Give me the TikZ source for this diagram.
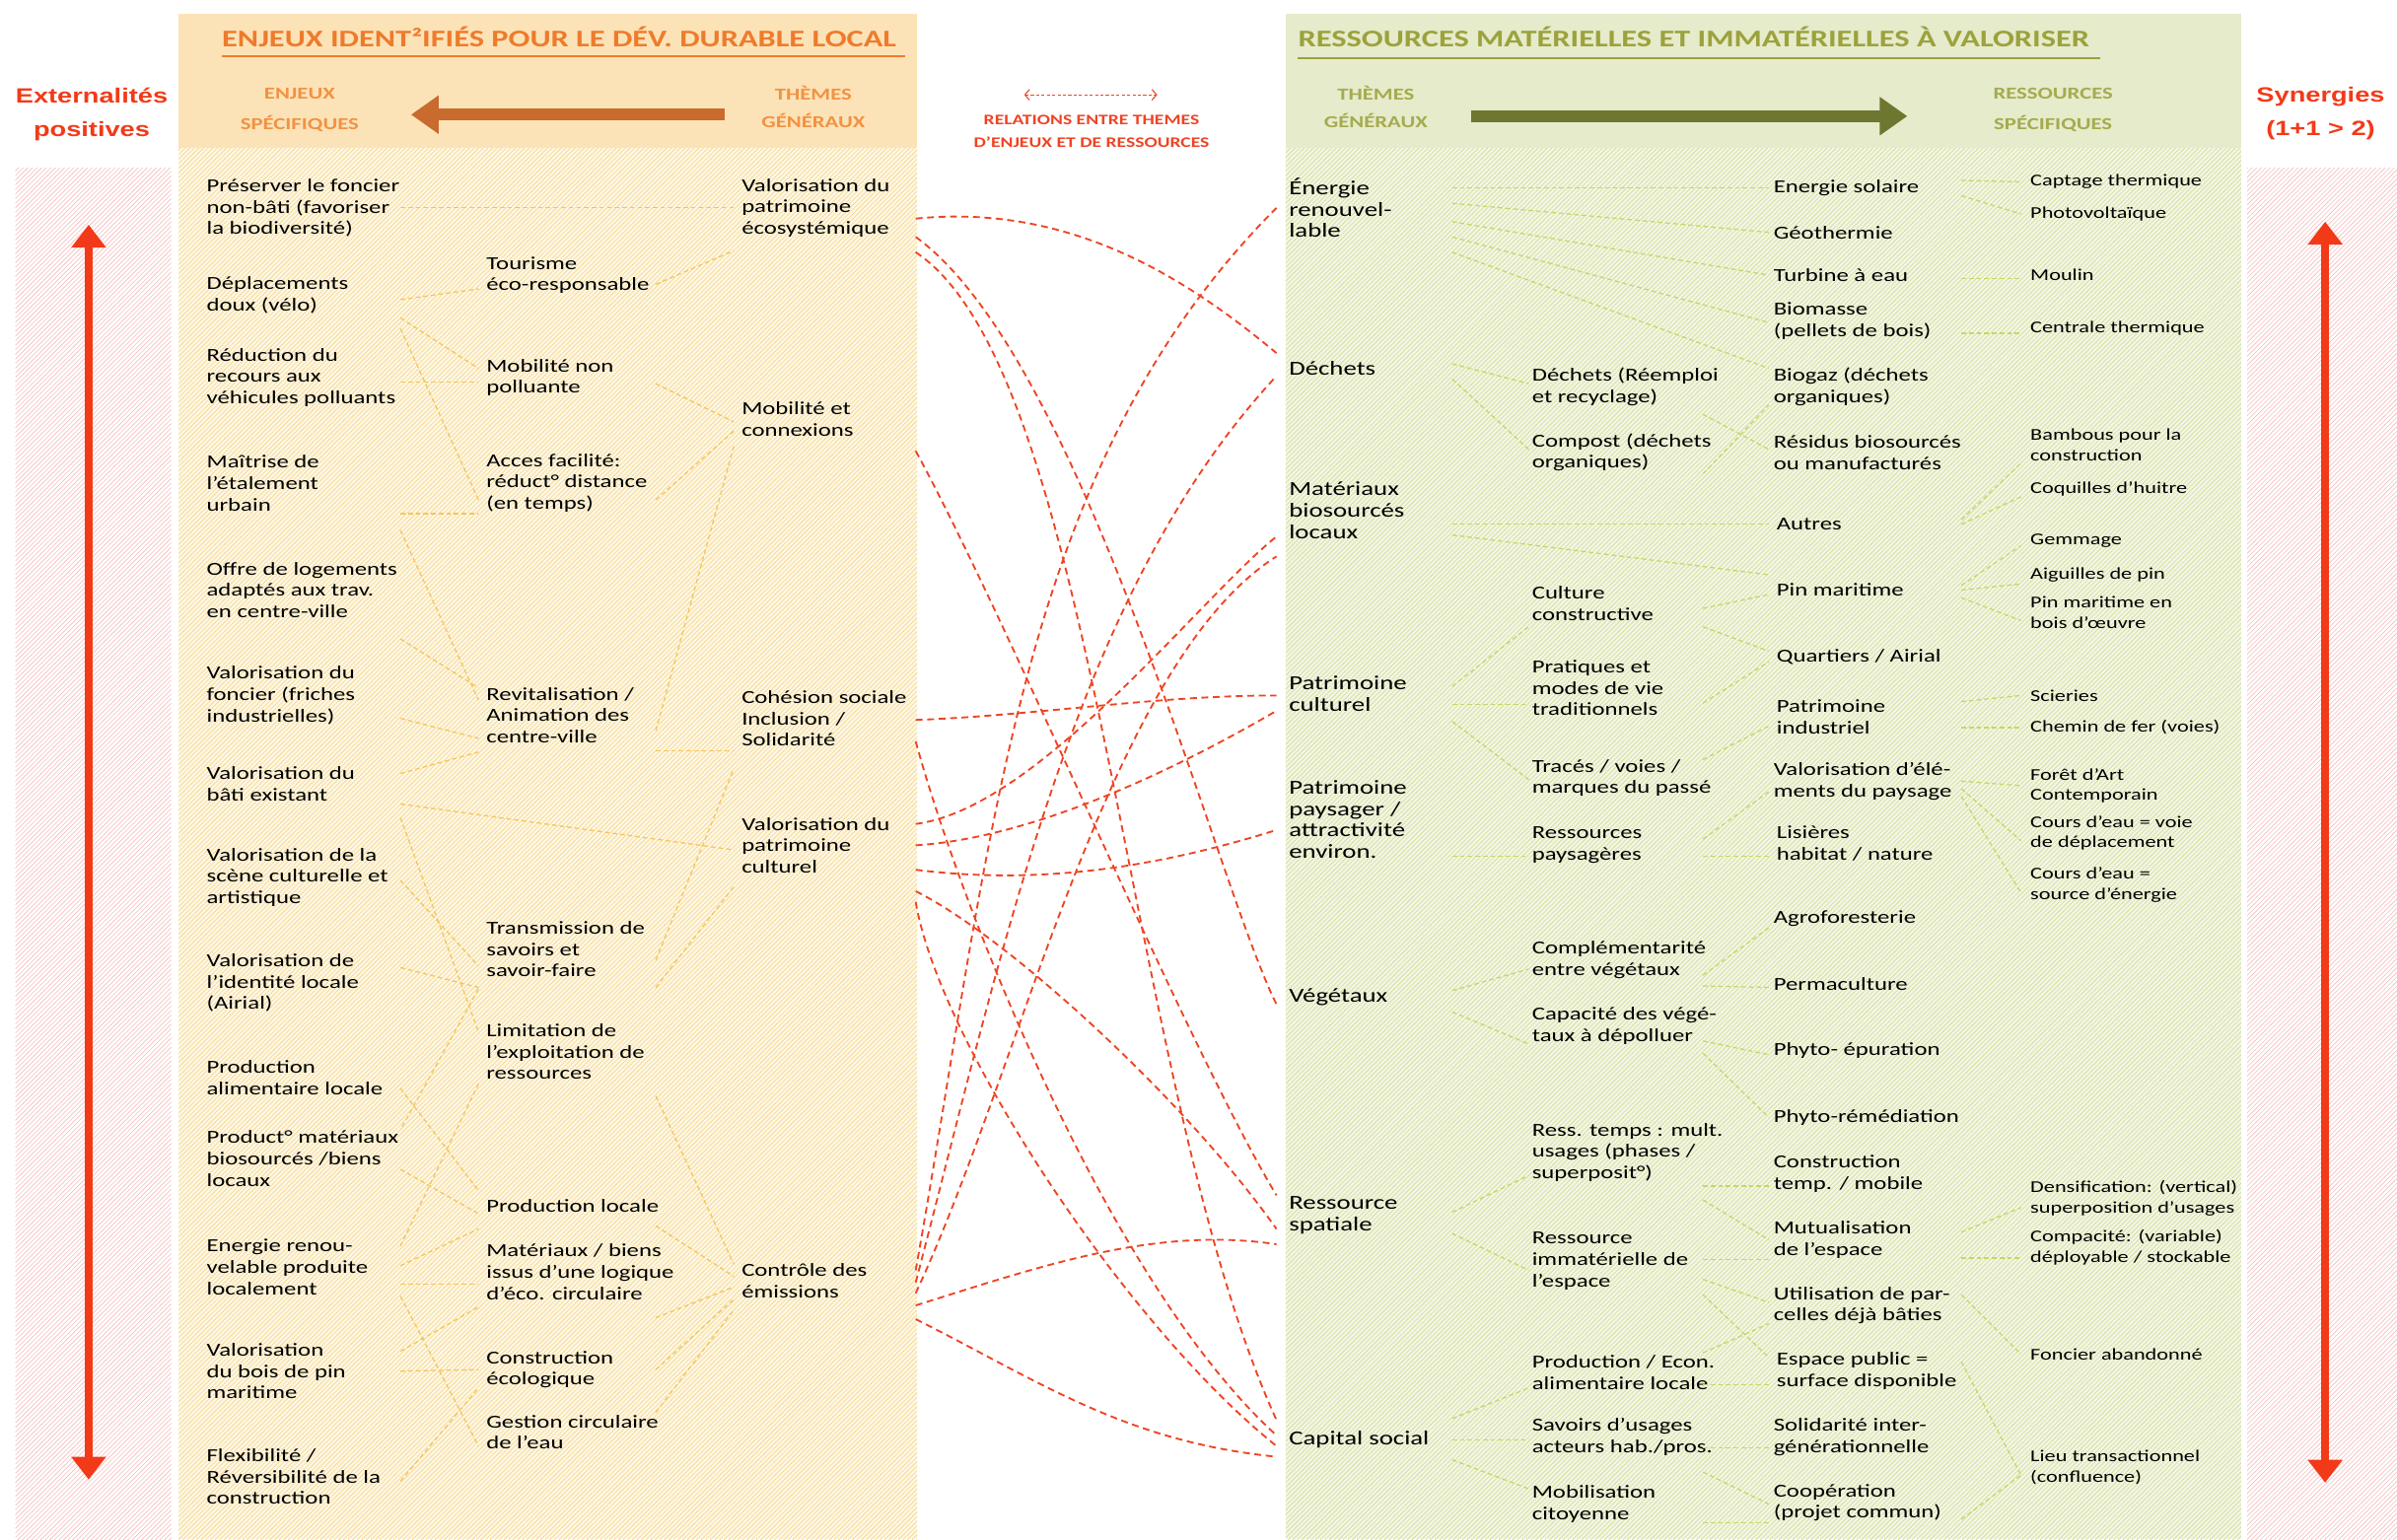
\documentclass[tikz,border=0pt]{standalone}
\usepackage{fontspec}
\setmainfont{Carlito}[FakeStretch=1.33]
\newfontfamily\extfont{Liberation Sans}[FakeStretch=1.3]
\usetikzlibrary{arrows.meta,patterns,calc}

\definecolor{enteteL}{HTML}{FCE3B7}
\definecolor{fondL}{HTML}{FEF7E4}
\definecolor{rayL}{HTML}{F3D690}
\definecolor{enteteR}{HTML}{E6EBCB}
\definecolor{fondR}{HTML}{F3F6E3}
\definecolor{rayR}{HTML}{CFDC9C}
\definecolor{rayRose}{HTML}{F4BDBD}
\definecolor{orangeT}{HTML}{EE7B2C}
\definecolor{orangeS}{HTML}{F29244}
\definecolor{orangeF}{HTML}{C96A2F}
\definecolor{oliveT}{HTML}{9CA23C}
\definecolor{oliveS}{HTML}{A5AB4E}
\definecolor{oliveF}{HTML}{6E7630}
\definecolor{rouge}{HTML}{F23A18}
\definecolor{rougeL}{HTML}{EE4424}
\definecolor{jauneL}{HTML}{F4C658}
\definecolor{vertL}{HTML}{C6D765}

\tikzset{
  enjeu/.style={anchor=west, align=left, inner sep=0pt, font=\fontsize{12}{14}\selectfont},
  theme/.style={enjeu, font=\fontsize{13}{14}\selectfont},
  detail/.style={enjeu, font=\fontsize{10.8}{13.5}\selectfont},
  soustitre/.style={align=center, inner sep=0pt, font=\fontsize{11}{20}\selectfont\bfseries},
  lienE/.style={draw=jauneL, dash pattern=on 3pt off 2pt, line width=0.8pt},
  lienR/.style={draw=vertL, dash pattern=on 3pt off 2pt, line width=0.8pt},
  relation/.style={draw=rougeL, dash pattern=on 4.5pt off 3pt, line width=1.2pt},
  flecheext/.style={draw=rouge, line width=5pt, {Triangle[length=15pt,width=22pt]}-{Triangle[length=15pt,width=22pt]}},
}

\begin{document}
\begin{tikzpicture}[x=1pt, y=-1pt]
  \useasboundingbox (0,0) rectangle (1568,1007);

  % fonds
  \fill[enteteL] (117,9) rectangle (600,97);
  \fill[fondL] (117,97) rectangle (600,1007);
  \fill[pattern=north east lines, pattern color=rayL] (117,97) rectangle (600,1007);
  \fill[enteteR] (841,9) rectangle (1466,97);
  \fill[fondR] (841,97) rectangle (1466,1007);
  \fill[pattern=north east lines, pattern color=rayR] (841,97) rectangle (1466,1007);
  \fill[pattern=north east lines, pattern color=rayRose] (10,110) rectangle (112,1007);
  \fill[pattern=north east lines, pattern color=rayRose] (1470,110) rectangle (1568,1007);

  % externalites / synergies
  \node[text=rouge, align=center, inner sep=0pt, font=\extfont\bfseries\fontsize{13.5}{22}\selectfont] (ext) at (60,75) {Externalités\\positives};
  \node[text=rouge, align=center, inner sep=0pt, font=\extfont\bfseries\fontsize{13.5}{22}\selectfont] (syn) at (1518,74) {Synergies\\(1+1 > 2)};
  \draw[flecheext] (58,147) -- (58,968);
  \draw[flecheext] (1521,145) -- (1521,970);

  % en-tetes
  \node[anchor=west, inner sep=0pt, text=orangeT, font=\fontsize{15.7}{16}\selectfont\bfseries] (titreL) at (145,24) {ENJEUX IDENT²IFIÉS POUR LE DÉV. DURABLE LOCAL};
  \draw[orangeT, line width=1.3pt] (145,37) -- (592,37);
  \node[soustitre, text=orangeS] (enjsp) at (196,72) {ENJEUX\\SPÉCIFIQUES};
  \node[soustitre, text=orangeS, font=\fontsize{11}{18}\selectfont\bfseries] (themL) at (532,70) {THÈMES\\GÉNÉRAUX};
  \draw[orangeF, line width=8pt, -{Triangle[length=18pt,width=24pt]}, shorten <=24pt, shorten >=34pt] ([yshift=-5pt]themL.west) -- ([yshift=-5pt]themL.west -| enjsp.east);

  \node[anchor=west, inner sep=0pt, text=oliveT, font=\fontsize{15.7}{16}\selectfont\bfseries] (titreR) at (849,24) {RESSOURCES MATÉRIELLES ET IMMATÉRIELLES À VALORISER};
  \draw[oliveT, line width=1.3pt] (849,38) -- (1374,38);
  \node[soustitre, text=oliveS, font=\fontsize{11}{18}\selectfont\bfseries] (themR) at (900,70) {THÈMES\\GÉNÉRAUX};
  \node[soustitre, text=oliveS] (ressp) at (1343,72) {RESSOURCES\\SPÉCIFIQUES};
  \draw[oliveF, line width=8pt, -{Triangle[length=18pt,width=24pt]}, shorten <=28pt, shorten >=56pt] ([yshift=-6pt]themR.east) -- ([yshift=-6pt]themR.east -| ressp.west);

  % legende des relations
  \node[text=rougeL, align=center, inner sep=0pt, font=\fontsize{9.5}{15}\selectfont\bfseries] (legende) at (714,86) {RELATIONS ENTRE THEMES\\D'ENJEUX ET DE RESSOURCES};
  \draw[rougeL, dash pattern=on 2pt off 1.5pt, line width=0.7pt, {Straight Barb[length=3pt,width=7pt]}-{Straight Barb[length=3pt,width=7pt]}] (670,62) -- (757,62);

  % enjeux specifiques
  \node[enjeu] (pres) at (135,136) {Préserver le foncier\\non-bâti (favoriser\\la biodiversité)};
  \node[enjeu] (depl) at (135,193) {Déplacements\\doux (vélo)};
  \node[enjeu] (reduc) at (135,247) {Réduction du\\recours aux\\véhicules polluants};
  \node[enjeu] (maitr) at (135,316) {Maîtrise de\\l'étalement\\urbain};
  \node[enjeu] (offre) at (135,386) {Offre de logements\\adaptés aux trav.\\en centre-ville};
  \node[enjeu] (fonc) at (135,455) {Valorisation du\\foncier (friches\\industrielles)};
  \node[enjeu] (bati) at (135,513) {Valorisation du\\bâti existant};
  \node[enjeu] (scene) at (135,574) {Valorisation de la\\scène culturelle et\\artistique};
  \node[enjeu] (ident) at (135,643) {Valorisation de\\l'identité locale\\(Airial)};
  \node[enjeu] (palim) at (135,705) {Production\\alimentaire locale};
  \node[enjeu] (pmat) at (135,758) {Product° matériaux\\biosourcés /biens\\locaux};
  \node[enjeu] (enren) at (135,829) {Energie renou-\\velable produite\\localement};
  \node[enjeu] (bois) at (135,897) {Valorisation\\du bois de pin\\maritime};
  \node[enjeu] (flex) at (135,966) {Flexibilité /\\Réversibilité de la\\construction};

  % enjeux intermediaires
  \node[enjeu] (tour) at (318,180) {Tourisme\\éco-responsable};
  \node[enjeu] (mobnp) at (318,247) {Mobilité non\\polluante};
  \node[enjeu] (acces) at (318,316) {Acces facilité:\\réduct° distance\\(en temps)};
  \node[enjeu] (revit) at (318,468) {Revitalisation /\\Animation des\\centre-ville};
  \node[enjeu] (transm) at (318,621) {Transmission de\\savoirs et\\savoir-faire};
  \node[enjeu] (limit) at (318,688) {Limitation de\\l'exploitation de\\ressources};
  \node[enjeu] (prodloc) at (318,789) {Production locale};
  \node[enjeu] (matbiens) at (318,832) {Matériaux / biens\\issus d'une logique\\d'éco. circulaire};
  \node[enjeu] (constr) at (318,896) {Construction\\écologique};
  \node[enjeu] (eau) at (318,937) {Gestion circulaire\\de l'eau};

  % themes generaux (enjeux)
  \node[enjeu] (vpeco) at (485,136) {Valorisation du\\patrimoine\\écosystémique};
  \node[enjeu] (mobco) at (485,274) {Mobilité et\\connexions};
  \node[enjeu] (cohes) at (485,470) {Cohésion sociale\\Inclusion /\\Solidarité};
  \node[enjeu] (vpcult) at (485,553) {Valorisation du\\patrimoine\\culturel};
  \node[enjeu] (contr) at (485,838) {Contrôle des\\émissions};

  % themes generaux (ressources)
  \node[theme] (ener) at (843,136) {Énergie\\renouvel-\\lable};
  \node[theme] (dech) at (843,241) {Déchets};
  \node[theme] (matbio) at (843,334) {Matériaux\\biosourcés\\locaux};
  \node[theme] (patcul) at (843,454) {Patrimoine\\culturel};
  \node[theme] (patpay) at (843,536) {Patrimoine\\paysager /\\attractivité\\environ.};
  \node[theme] (veget) at (843,652) {Végétaux};
  \node[theme] (resspa) at (843,795) {Ressource\\spatiale};
  \node[theme] (capsoc) at (843,942) {Capital social};

  % ressources intermediaires
  \node[enjeu] (dreemp) at (1002,253) {Déchets (Réemploi\\et recyclage)};
  \node[enjeu] (compost) at (1002,296) {Compost (déchets\\organiques)};
  \node[enjeu] (cultcon) at (1002,395) {Culture\\constructive};
  \node[enjeu] (prat) at (1002,450) {Pratiques et\\modes de vie\\traditionnels};
  \node[enjeu] (traces) at (1002,509) {Tracés / voies /\\marques du passé};
  \node[enjeu] (resspay) at (1002,553) {Ressources\\paysagères};
  \node[enjeu] (compl) at (1002,628) {Complémentarité\\entre végétaux};
  \node[enjeu] (capac) at (1002,671) {Capacité des végé-\\taux à dépolluer};
  \node[enjeu] (resstps) at (1002,754) {Ress. temps : mult.\\usages (phases /\\superposit°)};
  \node[enjeu] (ressimm) at (1002,825) {Ressource\\immatérielle de\\l'espace};
  \node[enjeu] (prodecon) at (1002,898) {Production / Econ.\\alimentaire locale};
  \node[enjeu] (savoirs) at (1002,940) {Savoirs d'usages\\acteurs hab./pros.};
  \node[enjeu] (mobcit) at (1002,984) {Mobilisation\\citoyenne};

  % ressources
  \node[enjeu] (esol) at (1160,123) {Energie solaire};
  \node[enjeu] (geoth) at (1160,152) {Géothermie};
  \node[enjeu] (turb) at (1160,180) {Turbine à eau};
  \node[enjeu] (biom) at (1160,210) {Biomasse\\(pellets de bois)};
  \node[enjeu] (biogaz) at (1160,253) {Biogaz (déchets\\organiques)};
  \node[enjeu] (residus) at (1160,296) {Résidus biosourcés\\ou manufacturés};
  \node[enjeu] (autres) at (1162,343) {Autres};
  \node[enjeu] (pinmar) at (1162,386) {Pin maritime};
  \node[enjeu] (quart) at (1162,430) {Quartiers / Airial};
  \node[enjeu] (patind) at (1162,469) {Patrimoine\\industriel};
  \node[enjeu] (valel) at (1160,511) {Valorisation d'élé-\\ments du paysage};
  \node[enjeu] (lisier) at (1162,552) {Lisières\\habitat / nature};
  \node[enjeu] (agro) at (1160,601) {Agroforesterie};
  \node[enjeu] (perma) at (1160,644) {Permaculture};
  \node[enjeu] (phytoep) at (1160,687) {Phyto- épuration};
  \node[enjeu] (phytorem) at (1160,731) {Phyto-rémédiation};
  \node[enjeu] (constmp) at (1160,768) {Construction\\temp. / mobile};
  \node[enjeu] (mutu) at (1160,811) {Mutualisation\\de l'espace};
  \node[enjeu] (utilis) at (1160,854) {Utilisation de par-\\celles déjà bâties};
  \node[enjeu] (esppub) at (1162,897) {Espace public =\\surface disponible};
  \node[enjeu] (solid) at (1160,940) {Solidarité inter-\\générationnelle};
  \node[enjeu] (coop) at (1160,983) {Coopération\\(projet commun)};

  % ressources specifiques
  \node[detail] (captage) at (1328,119) {Captage thermique};
  \node[detail] (photo) at (1328,140) {Photovoltaïque};
  \node[detail] (moulin) at (1328,180) {Moulin};
  \node[detail] (centrale) at (1328,215) {Centrale thermique};
  \node[detail] (bambou) at (1328,291) {Bambous pour la\\construction};
  \node[detail] (coquil) at (1328,320) {Coquilles d'huitre};
  \node[detail] (gemm) at (1328,354) {Gemmage};
  \node[detail] (aiguil) at (1328,376) {Aiguilles de pin};
  \node[detail] (pinbois) at (1328,401) {Pin maritime en\\bois d'œuvre};
  \node[detail] (scier) at (1328,455) {Scieries};
  \node[detail] (chemin) at (1328,476) {Chemin de fer (voies)};
  \node[detail] (foret) at (1328,514) {Forêt d'Art\\Contemporain};
  \node[detail] (coursv) at (1328,545) {Cours d'eau = voie\\de déplacement};
  \node[detail] (courss) at (1328,579) {Cours d'eau =\\source d'énergie};
  \node[detail] (densif) at (1328,784) {Densification: (vertical)\\superposition d'usages};
  \node[detail] (compac) at (1328,816) {Compacité: (variable)\\déployable / stockable};
  \node[detail] (foncab) at (1328,886) {Foncier abandonné};
  \node[detail] (lieutr) at (1328,960) {Lieu transactionnel\\(confluence)};

  % colonnes des liens
  \coordinate (c1) at (262,0);
  \coordinate (c2l) at (313,0);
  \coordinate (c2r) at (429,0);
  \coordinate (c3) at (480,0);
  \coordinate (rl) at (599,0);
  \coordinate (rr) at (835,0);
  \coordinate (c5) at (950,0);
  \coordinate (c6) at (1000,0);
  \coordinate (c7) at (1114,0);
  \coordinate (c8) at (1157,0);
  \coordinate (c9) at (1283,0);
  \coordinate (c10) at (1322,0);

  % liens enjeux
  \draw[lienE] (c1|-pres) -- (c3|-vpeco);
  \draw[lienE] ($(c2r|-tour)+(0,6)$) -- ($(c3|-vpeco)+(0,28)$);
  \draw[lienE] ($(c1|-depl)+(0,3)$) -- ($(c2l|-tour)+(0,9)$);
  \draw[lienE] ($(c1|-depl)+(0,15)$) -- ($(c2l|-mobnp)+(0,-6)$);
  \draw[lienE] ($(c1|-depl)+(0,22)$) -- ($(c2l|-acces)+(0,11)$);
  \draw[lienE] ($(c1|-reduc)+(0,3)$) -- ($(c2l|-mobnp)+(0,3)$);
  \draw[lienE] ($(c1|-maitr)+(0,20)$) -- ($(c2l|-acces)+(0,20)$);
  \draw[lienE] ($(c1|-maitr)+(0,31)$) -- ($(c2l|-revit)+(0,-10)$);
  \draw[lienE] ($(c1|-offre)+(0,32)$) -- ($(c2l|-revit)+(0,-18)$);
  \draw[lienE] ($(c1|-fonc)+(0,15)$) -- ($(c2l|-revit)+(0,15)$);
  \draw[lienE] ($(c1|-bati)+(0,-7)$) -- ($(c2l|-revit)+(0,24)$);
  \draw[lienE] ($(c2r|-mobnp)+(0,4)$) -- ($(c3|-mobco)+(0,2)$);
  \draw[lienE] ($(c2r|-acces)+(0,11)$) -- ($(c3|-mobco)+(0,8)$);
  \draw[lienE] ($(c2r|-revit)+(0,10)$) -- ($(c3|-mobco)+(0,18)$);
  \draw[lienE] ($(c2r|-revit)+(0,23)$) -- ($(c3|-cohes)+(0,21)$);
  \draw[lienE] ($(c1|-bati)+(0,13)$) -- ($(c3|-vpcult)+(0,3)$);
  \draw[lienE] ($(c2r|-transm)+(0,7)$) -- ($(c3|-cohes)+(0,33)$);
  \draw[lienE] ($(c2r|-transm)+(0,25)$) -- ($(c3|-vpcult)+(0,27)$);
  \draw[lienE] ($(c1|-scene)+(0,2)$) -- ($(c2l|-transm)+(0,11)$);
  \draw[lienE] ($(c1|-bati)+(0,22)$) -- ($(c2l|-limit)+(0,-13)$);
  \draw[lienE] ($(c1|-ident)+(0,-10)$) -- ($(c2l|-transm)+(0,25)$);
  \draw[lienE] ($(c2l|-transm)+(0,26)$) -- ($(c1|-pmat)+(0,-19)$);
  \draw[lienE] ($(c1|-palim)+(0,7)$) -- ($(c2l|-prodloc)+(0,-10)$);
  \draw[lienE] ($(c2l|-limit)+(0,21)$) -- ($(c1|-enren)+(0,-14)$);
  \draw[lienE] ($(c1|-pmat)+(0,7)$) -- ($(c2l|-prodloc)+(0,5)$);
  \draw[lienE] ($(c1|-enren)+(0,-1)$) -- ($(c2l|-prodloc)+(0,15)$);
  \draw[lienE] ($(c1|-enren)+(0,11)$) -- ($(c2l|-matbiens)+(0,8)$);
  \draw[lienE] ($(c1|-enren)+(0,19)$) -- ($(c2l|-eau)+(0,9)$);
  \draw[lienE] ($(c1|-bois)+(0,-13)$) -- ($(c2l|-matbiens)+(0,23)$);
  \draw[lienE] (c1|-bois) -- (c2l|-constr);
  \draw[lienE] ($(c1|-flex)+(0,3)$) -- ($(c2l|-constr)+(0,12)$);
  \draw[lienE] ($(c2r|-limit)+(0,29)$) -- ($(c3|-contr)+(0,-11)$);
  \draw[lienE] ($(c2r|-prodloc)+(0,13)$) -- ($(c3|-contr)+(0,-3)$);
  \draw[lienE] ($(c2r|-matbiens)+(0,30)$) -- ($(c3|-contr)+(0,4)$);
  \draw[lienE] (c2r|-constr) -- ($(c3|-contr)+(0,12)$);
  \draw[lienE] ($(c2r|-eau)+(0,-13)$) -- ($(c3|-contr)+(0,19)$);

  % liens ressources
  \draw[lienR] ($(c5|-ener)+(0,-13)$) -- (c8|-esol);
  \draw[lienR] ($(c5|-ener)+(0,-3)$) -- (c8|-geoth);
  \draw[lienR] ($(c5|-ener)+(0,9)$) -- (c8|-turb);
  \draw[lienR] ($(c5|-ener)+(0,19)$) -- ($(c8|-biom)+(0,1)$);
  \draw[lienR] ($(c5|-ener)+(0,29)$) -- ($(c8|-biogaz)+(0,-12)$);
  \draw[lienR] ($(c5|-dech)+(0,-3)$) -- ($(c6|-dreemp)+(0,-2)$);
  \draw[lienR] ($(c5|-dech)+(0,7)$) -- ($(c6|-compost)+(0,-2)$);
  \draw[lienR] ($(c7|-dreemp)+(0,18)$) -- ($(c8|-residus)+(0,-2)$);
  \draw[lienR] ($(c7|-compost)+(0,14)$) -- ($(c8|-biogaz)+(0,12)$);
  \draw[lienR] ($(c5|-matbio)+(0,9)$) -- (c8|-autres);
  \draw[lienR] ($(c5|-matbio)+(0,16)$) -- ($(c8|-pinmar)+(0,-10)$);
  \draw[lienR] ($(c7|-cultcon)+(0,3)$) -- ($(c8|-pinmar)+(0,3)$);
  \draw[lienR] ($(c7|-cultcon)+(0,15)$) -- ($(c8|-quart)+(0,-4)$);
  \draw[lienR] ($(c5|-patcul)+(0,-5)$) -- ($(c6|-cultcon)+(0,15)$);
  \draw[lienR] ($(c5|-patcul)+(0,7)$) -- ($(c6|-prat)+(0,11)$);
  \draw[lienR] ($(c5|-patcul)+(0,18)$) -- ($(c6|-traces)+(0,1)$);
  \draw[lienR] ($(c7|-prat)+(0,10)$) -- ($(c8|-quart)+(0,3)$);
  \draw[lienR] ($(c7|-traces)+(0,-12)$) -- ($(c8|-patind)+(0,6)$);
  \draw[lienR] ($(c7|-resspay)+(0,-4)$) -- ($(c8|-valel)+(0,7)$);
  \draw[lienR] ($(c7|-resspay)+(0,7)$) -- ($(c8|-lisier)+(0,8)$);
  \draw[lienR] ($(c5|-patpay)+(0,24)$) -- ($(c6|-resspay)+(0,7)$);
  \draw[lienR] ($(c5|-veget)+(0,-4)$) -- ($(c6|-compl)+(0,6)$);
  \draw[lienR] ($(c5|-veget)+(0,10)$) -- ($(c6|-capac)+(0,12)$);
  \draw[lienR] ($(c7|-compl)+(0,10)$) -- ($(c8|-agro)+(0,6)$);
  \draw[lienR] ($(c7|-compl)+(0,17)$) -- ($(c8|-perma)+(0,2)$);
  \draw[lienR] ($(c7|-capac)+(0,10)$) -- ($(c8|-phytoep)+(0,3)$);
  \draw[lienR] ($(c7|-capac)+(0,18)$) -- (c8|-phytorem);
  \draw[lienR] ($(c5|-resspa)+(0,-2)$) -- ($(c6|-resstps)+(0,15)$);
  \draw[lienR] ($(c5|-resspa)+(0,12)$) -- ($(c6|-ressimm)+(0,6)$);
  \draw[lienR] ($(c7|-resstps)+(0,22)$) -- ($(c8|-constmp)+(0,8)$);
  \draw[lienR] ($(c7|-resstps)+(0,31)$) -- (c8|-mutu);
  \draw[lienR] ($(c7|-ressimm)+(0,-1)$) -- ($(c8|-mutu)+(0,13)$);
  \draw[lienR] ($(c7|-ressimm)+(0,12)$) -- ($(c8|-utilis)+(0,-2)$);
  \draw[lienR] ($(c7|-ressimm)+(0,22)$) -- ($(c8|-esppub)+(0,-9)$);
  \draw[lienR] ($(c7|-prodecon)+(0,-13)$) -- ($(c8|-utilis)+(0,12)$);
  \draw[lienR] ($(c7|-prodecon)+(0,8)$) -- ($(c8|-esppub)+(0,9)$);
  \draw[lienR] ($(c5|-capsoc)+(0,-14)$) -- ($(c6|-prodecon)+(0,10)$);
  \draw[lienR] (c5|-capsoc) -- ($(c6|-savoirs)+(0,2)$);
  \draw[lienR] ($(c5|-capsoc)+(0,13)$) -- ($(c6|-mobcit)+(0,-10)$);
  \draw[lienR] ($(c7|-savoirs)+(0,7)$) -- ($(c8|-solid)+(0,7)$);
  \draw[lienR] ($(c7|-savoirs)+(0,23)$) -- ($(c8|-coop)+(0,1)$);
  \draw[lienR] ($(c7|-mobcit)+(0,12)$) -- ($(c8|-coop)+(0,13)$);

  \draw[lienR] ($(c9|-esol)+(0,-5)$) -- (c10|-captage);
  \draw[lienR] ($(c9|-esol)+(0,5)$) -- (c10|-photo);
  \draw[lienR] ($(c9|-turb)+(0,2)$) -- ($(c10|-moulin)+(0,2)$);
  \draw[lienR] ($(c9|-biom)+(0,8)$) -- ($(c10|-centrale)+(0,3)$);
  \draw[lienR] ($(c9|-autres)+(0,-3)$) -- ($(c10|-bambou)+(0,12)$);
  \draw[lienR] (c9|-autres) -- ($(c10|-coquil)+(0,5)$);
  \draw[lienR] ($(c9|-pinmar)+(0,-3)$) -- ($(c10|-gemm)+(0,3)$);
  \draw[lienR] (c9|-pinmar) -- ($(c10|-aiguil)+(0,6)$);
  \draw[lienR] ($(c9|-pinmar)+(0,5)$) -- ($(c10|-pinbois)+(0,5)$);
  \draw[lienR] ($(c9|-patind)+(0,-10)$) -- (c10|-scier);
  \draw[lienR] ($(c9|-patind)+(0,7)$) -- (c10|-chemin);
  \draw[lienR] (c9|-valel) -- (c10|-foret);
  \draw[lienR] ($(c9|-valel)+(0,5)$) -- ($(c10|-coursv)+(0,5)$);
  \draw[lienR] ($(c9|-valel)+(0,10)$) -- ($(c10|-courss)+(0,5)$);
  \draw[lienR] ($(c9|-mutu)+(0,-5)$) -- ($(c10|-densif)+(0,6)$);
  \draw[lienR] ($(c9|-mutu)+(0,12)$) -- ($(c10|-compac)+(0,7)$);
  \draw[lienR] ($(c9|-utilis)+(0,-7)$) -- (c10|-foncab);
  \draw[lienR] ($(c9|-esppub)+(0,-6)$) -- ($(c10|-lieutr)+(0,5)$);
  \draw[lienR] ($(c9|-coop)+(0,11)$) -- ($(c10|-lieutr)+(0,5)$);

  % relations entre themes
  \draw[relation] ($(rl|-vpeco)+(0,7)$) .. controls +(100,-10) and +(-60,-50) .. ($(rr|-dech)+(0,-10)$);
  \draw[relation] ($(rl|-vpeco)+(0,19)$) .. controls +(110,80) and +(-40,-80) .. ($(rr|-veget)+(0,5)$);
  \draw[relation] ($(rl|-vpeco)+(0,29)$) .. controls +(120,80) and +(-100,-220) .. ($(rr|-capsoc)+(0,-13)$);
  \draw[relation] ($(rl|-mobco)+(0,21)$) .. controls +(60,110) and +(-60,-100) .. ($(rr|-resspa)+(0,-13)$);
  \draw[relation] ($(rl|-cohes)+(0,1)$) .. controls +(80,-3) and +(-80,0) .. ($(rr|-patcul)+(0,1)$);
  \draw[relation] ($(rl|-cohes)+(0,15)$) .. controls +(30,110) and +(-110,-100) .. ($(rr|-capsoc)+(0,-3)$);
  \draw[relation] ($(rl|-vpcult)+(0,-14)$) .. controls +(80,-10) and +(-50,40) .. ($(rr|-matbio)+(0,17)$);
  \draw[relation] (rl|-vpcult) .. controls +(80,-5) and +(-60,35) .. ($(rr|-patcul)+(0,11)$);
  \draw[relation] ($(rl|-vpcult)+(0,16)$) .. controls +(80,10) and +(-80,25) .. ($(rr|-patpay)+(0,7)$);
  \draw[relation] ($(rl|-vpcult)+(0,30)$) .. controls +(60,30) and +(-60,-85) .. ($(rr|-resspa)+(0,9)$);
  \draw[relation] ($(rl|-vpcult)+(0,37)$) .. controls +(15,90) and +(-100,-80) .. ($(rr|-capsoc)+(0,4)$);
  \draw[relation] ($(rl|-contr)+(0,-7)$) .. controls +(50,-280) and +(-170,170) .. (rr|-ener);
  \draw[relation] ($(rl|-contr)+(0,1)$) .. controls +(60,-230) and +(-130,140) .. ($(rr|-dech)+(0,5)$);
  \draw[relation] ($(rl|-contr)+(0,8)$) .. controls +(70,-150) and +(-110,70) .. ($(rr|-matbio)+(0,30)$);
  \draw[relation] ($(rl|-contr)+(0,16)$) .. controls +(80,-25) and +(-80,-12) .. ($(rr|-resspa)+(0,19)$);
  \draw[relation] ($(rl|-contr)+(0,25)$) .. controls +(80,40) and +(-100,-10) .. ($(rr|-capsoc)+(0,11)$);
\end{tikzpicture}
\end{document}
